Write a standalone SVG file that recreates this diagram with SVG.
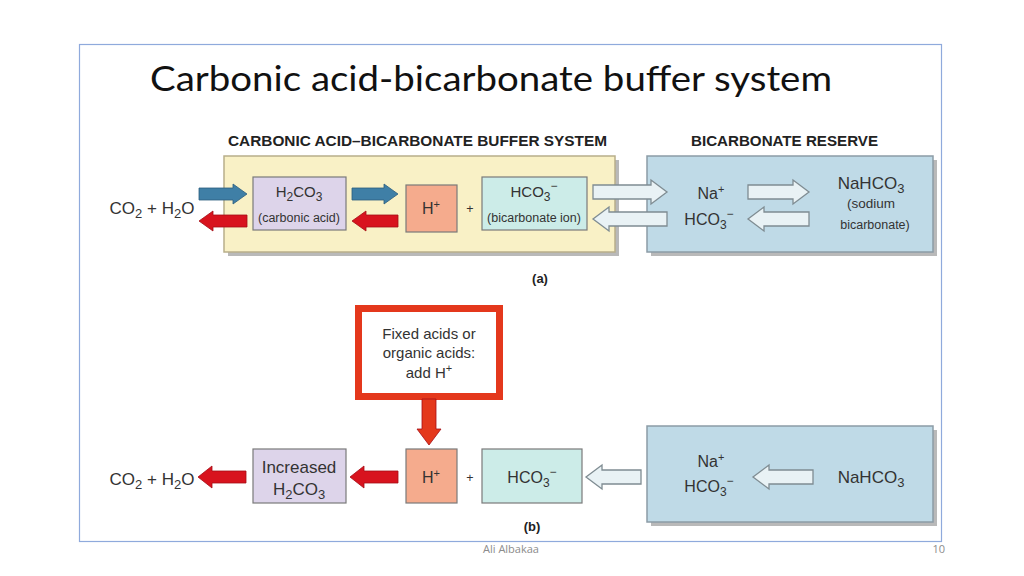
<svg xmlns="http://www.w3.org/2000/svg" width="1024" height="576" viewBox="0 0 1024 576">
<style>
text{font-family:"Liberation Sans",Arial,sans-serif;fill:#333}
.t{font-size:15px}
.m{font-size:16px}
.L{font-size:17px}
.s{font-size:12.5px}
.f{font-size:15px}
.hd{font-size:15px;font-weight:bold;fill:#222}
.shadow{fill:#8a8a8a;opacity:.6}
.box{stroke:#7a7a7a;stroke-width:1.2}
.yel{fill:#f9f1c6;stroke:#b8ae8a;stroke-width:1.5}
.res{fill:#bfdae7;stroke:#8c9ca6;stroke-width:1.5}
.lav{fill:#ddd4ea}
.sal{fill:#f5ab8d}
.cy{fill:#ccece8}
.ab{fill:#3f7fa6;stroke:#2c5e7e;stroke-width:.8}
.ar{fill:#d8131e;stroke:#a50d15;stroke-width:.8}
.aw{fill:#e9f2f5;stroke:#7f8c92;stroke-width:1.3}
</style>
<rect width="1024" height="576" fill="#fff"/>
<rect x="79.5" y="44.5" width="862" height="497" fill="#fff" stroke="#8faadc" stroke-width="1.2"/>
<text x="150" y="91" font-size="35" style="font-family:Lato,'Open Sans',sans-serif;fill:#111" textLength="682" lengthAdjust="spacingAndGlyphs">Carbonic acid-bicarbonate buffer system</text>

<text class="hd" x="228" y="146" textLength="379" lengthAdjust="spacingAndGlyphs">CARBONIC ACID–BICARBONATE BUFFER SYSTEM</text>
<text class="hd" x="691" y="146" textLength="187" lengthAdjust="spacingAndGlyphs">BICARBONATE RESERVE</text>

<g id="yellow-box">
<rect class="shadow" x="228" y="160" width="391" height="96"/>
<rect class="yel" x="224" y="156" width="391" height="96"/>
</g>
<g id="reserve-a">
<rect class="shadow" x="651" y="160" width="286" height="96"/>
<rect class="res" x="647" y="156" width="286" height="96"/>
<text class="m" x="711" y="199" text-anchor="middle">Na<tspan dy="-6" font-size="11">+</tspan></text>
<text class="m" x="709" y="225" text-anchor="middle">HCO<tspan dy="4" font-size="12">3</tspan><tspan dy="-11" font-size="12">−</tspan></text>
<text class="L" x="871" y="189" text-anchor="middle">NaHCO<tspan dy="4" font-size="13">3</tspan></text>
<text class="s" x="871" y="208" text-anchor="middle" style="font-size:13.5px">(sodium</text>
<text class="s" x="875" y="229" text-anchor="middle">bicarbonate)</text>
</g>

<g id="co2-a"><text class="L" x="152" y="214" text-anchor="middle">CO<tspan dy="4" font-size="13">2</tspan><tspan dy="-4"> + H</tspan><tspan dy="4" font-size="13">2</tspan><tspan dy="-4">O</tspan></text></g>
<g id="h2co3-a">
<rect class="box lav" x="253" y="177" width="93" height="53"/>
<text class="t" x="299" y="197" text-anchor="middle">H<tspan dy="4" font-size="12">2</tspan><tspan dy="-4">CO</tspan><tspan dy="4" font-size="12">3</tspan></text>
<text class="s" x="299" y="222" text-anchor="middle">(carbonic acid)</text>
</g>
<g id="h-a">
<rect class="box sal" x="406" y="185" width="51" height="47"/>
<text class="m" x="431" y="214" text-anchor="middle">H<tspan dy="-6" font-size="11">+</tspan></text>
</g>
<text class="s" x="470" y="213" text-anchor="middle">+</text>
<g id="hco3-a">
<rect class="box cy" x="482" y="177" width="105" height="53"/>
<text class="t" x="534" y="197" text-anchor="middle">HCO<tspan dy="4" font-size="12">3</tspan><tspan dy="-11" font-size="12">−</tspan></text>
<text class="s" x="534" y="222" text-anchor="middle">(bicarbonate ion)</text>
</g>
<text x="540" y="283" font-size="13" font-weight="bold" text-anchor="middle" style="fill:#222">(a)</text>

<g id="fixed-acids">
<rect x="358.5" y="308.5" width="141" height="88" fill="#fff" stroke="#e4381c" stroke-width="7"/>
<text class="f" x="429" y="339" text-anchor="middle">Fixed acids or</text>
<text class="f" x="429" y="358" text-anchor="middle">organic acids:</text>
<text class="f" x="429" y="378" text-anchor="middle">add H<tspan dy="-6" font-size="11">+</tspan></text>
</g>
<g id="co2-b"><text class="L" x="152" y="485" text-anchor="middle">CO<tspan dy="4" font-size="13">2</tspan><tspan dy="-4"> + H</tspan><tspan dy="4" font-size="13">2</tspan><tspan dy="-4">O</tspan></text></g>
<g id="h2co3-b">
<rect class="box lav" x="253" y="449" width="93" height="54"/>
<text class="L" x="299" y="473" text-anchor="middle">Increased</text>
<text class="L" x="299" y="495" text-anchor="middle">H<tspan dy="4" font-size="13">2</tspan><tspan dy="-4">CO</tspan><tspan dy="4" font-size="13">3</tspan></text>
</g>
<g id="h-b">
<rect class="box sal" x="406" y="449" width="51" height="54"/>
<text class="m" x="431" y="483" text-anchor="middle">H<tspan dy="-6" font-size="11">+</tspan></text>
</g>
<text class="s" x="470" y="482" text-anchor="middle">+</text>
<g id="hco3-b">
<rect class="box cy" x="482" y="449" width="100" height="54"/>
<text class="m" x="532" y="483" text-anchor="middle">HCO<tspan dy="4" font-size="12">3</tspan><tspan dy="-11" font-size="12">−</tspan></text>
</g>
<g id="reserve-b">
<rect class="shadow" x="651" y="430" width="286" height="96"/>
<rect class="res" x="647" y="426" width="286" height="96"/>
<text class="m" x="711" y="467" text-anchor="middle">Na<tspan dy="-6" font-size="11">+</tspan></text>
<text class="m" x="709" y="492" text-anchor="middle">HCO<tspan dy="4" font-size="12">3</tspan><tspan dy="-11" font-size="12">−</tspan></text>
<text class="L" x="871" y="483" text-anchor="middle">NaHCO<tspan dy="4" font-size="13">3</tspan></text>
</g>
<text x="532" y="531" font-size="13" font-weight="bold" text-anchor="middle" style="fill:#222">(b)</text>

<g id="connectors">
<path class="ab" d="M199 188 L233 188 L233 184 L247 194 L233 204 L233 200 L199 200 Z"/>
<path class="ab" d="M352 188 L384 188 L384 184 L398 194 L384 204 L384 200 L352 200 Z"/>
<path class="ar" d="M247 215 L213 215 L213 211 L199 221 L213 231 L213 227 L247 227 Z"/>
<path class="ar" d="M398 215 L366 215 L366 211 L352 221 L366 231 L366 227 L398 227 Z"/>
<path class="aw" d="M593 185 L651 185 L651 180 L667 192 L651 204 L651 199 L593 199 Z"/>
<path class="aw" d="M667 212 L609 212 L609 207 L593 219 L609 231 L609 226 L667 226 Z"/>
<path class="aw" d="M748 185 L793 185 L793 180 L809 192 L793 204 L793 199 L748 199 Z"/>
<path class="aw" d="M809 212 L764 212 L764 207 L748 219 L764 231 L764 226 L809 226 Z"/>
<path class="ar" style="fill:#e4381c" d="M422 399 L436 399 L436 429 L441 429 L429 445 L417 429 L422 429 Z"/>
<path class="ar" d="M246 471 L212 471 L212 466 L198 477 L212 488 L212 483 L246 483 Z"/>
<path class="ar" d="M398 471 L364 471 L364 466 L350 477 L364 488 L364 483 L398 483 Z"/>
<path class="aw" d="M641 470 L602 470 L602 465 L586 477 L602 489 L602 484 L641 484 Z"/>
<path class="aw" d="M813 470 L769 470 L769 465 L753 477 L769 489 L769 484 L813 484 Z"/>
</g>

<text x="511" y="553" font-size="11" text-anchor="middle" style="fill:#8c8c8c;font-family:'Open Sans',sans-serif">Ali Albakaa</text>
<text x="945" y="553" font-size="11" text-anchor="end" style="fill:#8c8c8c;font-family:'Open Sans',sans-serif">10</text>
</svg>
